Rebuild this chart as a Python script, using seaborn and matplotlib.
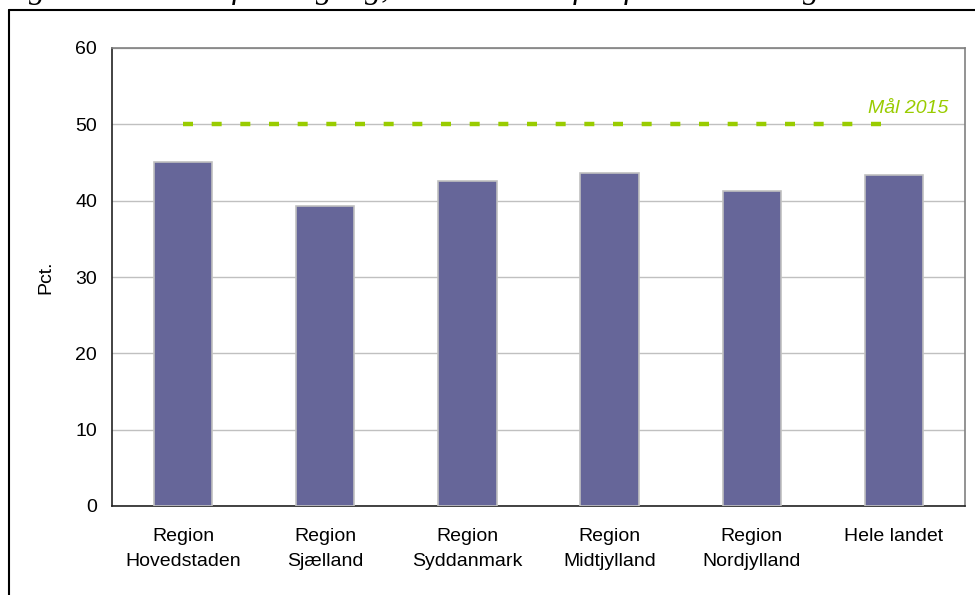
import matplotlib
matplotlib.use("Agg")
import matplotlib.pyplot as plt
import seaborn as sns
import pandas as pd
from matplotlib.lines import Line2D

regions = ["Region\nHovedstaden", "Region\nSjælland", "Region\nSyddanmark",
           "Region\nMidtjylland", "Region\nNordjylland", "Hele landet"]
pct = [45.1, 39.3, 42.6, 43.6, 41.3, 43.4]
goal = 50
goal_label = "Mål 2015"
title = "Figur 9.5 Andel af en årgang, der ventes at fuldføre en videregående uddannelse"

df = pd.DataFrame({"Region": regions, "Pct": pct})

sns.set_style("white")
plt.rcParams["font.family"] = ["Liberation Sans", "DejaVu Sans"]
plt.rcParams["text.color"] = "black"
plt.rcParams["axes.labelcolor"] = "black"
fs = 14

fig = plt.figure(figsize=(9.75, 5.95), dpi=100)
ax = fig.add_axes([112 / 975, 89 / 595, 853 / 975, 458 / 595])

sns.barplot(data=df, x="Region", y="Pct", color="#666699", width=0.41,
            edgecolor="#c0c0c0", linewidth=1.2, saturation=1, ax=ax, zorder=3)

# target line (Mål 2015)
ax.plot([0, 5], [goal, goal], color="#99cc00", lw=3.2,
        linestyle=(0, (2.25, 4.2)), zorder=4, solid_capstyle="butt",
        dash_capstyle="butt")
ax.text(5.1, 51.5, goal_label, color="#99cc00", fontsize=fs,
        style="italic", ha="center", va="baseline")

ax.set_ylim(0, 60)
ax.set_xlim(-0.5, 5.5)
ax.set_yticks(range(0, 61, 10))
ax.yaxis.grid(True, color="#c0c0c0", lw=1)
ax.set_axisbelow(True)

ax.set_xticks([i - 0.5 for i in range(7)], minor=True)
ax.tick_params(axis="x", which="major", length=0, pad=16, labelsize=fs,
               labelcolor="black")
ax.tick_params(axis="x", which="minor", length=9.5, width=1, color="#333333",
               direction="inout")
ax.tick_params(axis="y", length=9.5, width=1, color="#333333",
               direction="inout", labelsize=fs, pad=6, labelcolor="black")
for lab in ax.get_xticklabels():
    lab.set_linespacing(1.6)
ax.set_xlabel("")
ax.set_ylabel("Pct.", fontsize=fs, labelpad=15, color="black")

for s in ["left", "bottom"]:
    ax.spines[s].set_color("#222222")
    ax.spines[s].set_linewidth(1.2)
for s in ["top", "right"]:
    ax.spines[s].set_color("#808080")
    ax.spines[s].set_linewidth(1.2)

# outer frame (cut by the image edges)
fig.add_artist(Line2D([9 / 975, 9 / 975], [0, 1 - 10 / 595], color="black",
                      lw=1.5, transform=fig.transFigure))
fig.add_artist(Line2D([9 / 975, 1], [1 - 10 / 595, 1 - 10 / 595], color="black",
                      lw=1.5, transform=fig.transFigure))

# title, only its lower part shows in the reference
fig.text(0.0, 1 + 2 / 595, title, fontsize=23.5, family=["Liberation Serif"],
         style="italic", ha="left", va="baseline")

fig.savefig("out.png", dpi=100)
